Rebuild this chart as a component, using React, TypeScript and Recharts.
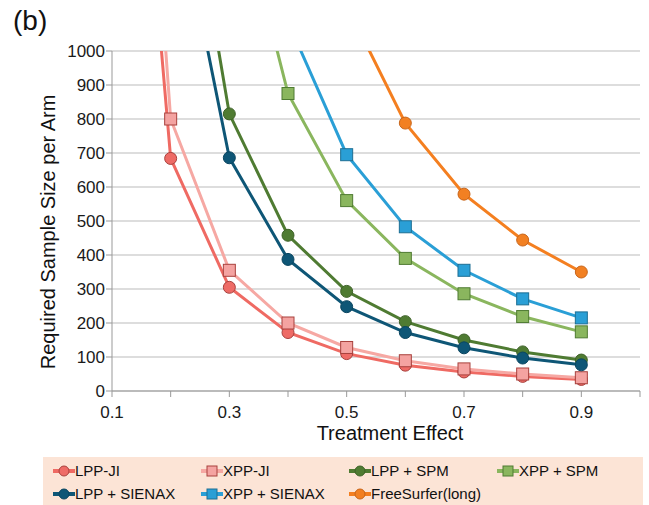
import { LineChart, Line, XAxis, YAxis, CartesianGrid } from 'recharts';

const effects = [0.1, 0.2, 0.3, 0.4, 0.5, 0.6, 0.7, 0.8, 0.9];
const lppJi = [2700, 684, 305, 172, 110, 76, 56, 43, 34];
const xppJi = [3200, 800, 355, 200, 128, 89, 65, 50, 39];
const lppSpm = [null, 1834, 815, 458, 293, 204, 150, 115, 91];
const xppSpm = [null, null, 1556, 875, 560, 390, 286, 219, 174];
const lppSienax = [null, 1544, 686, 387, 248, 172, 127, 97, 77];
const xppSienax = [null, null, null, 1086, 695, 483, 355, 271, 215];
const freeSurfer = [null, null, null, null, 1135, 788, 579, 444, 350];

const xTicks = [0.1, 0.2, 0.3, 0.4, 0.5, 0.6, 0.7, 0.8, 0.9, 1.0];
const xTickLabels = ['0.1', '0.3', '0.5', '0.7', '0.9'];
const yTicks = [0, 100, 200, 300, 400, 500, 600, 700, 800, 900, 1000];

const data = effects.map((e, i) => ({
  effect: e,
  lppJi: lppJi[i],
  xppJi: xppJi[i],
  lppSpm: lppSpm[i],
  xppSpm: xppSpm[i],
  lppSienax: lppSienax[i],
  xppSienax: xppSienax[i],
  freeSurfer: freeSurfer[i],
}));

const series = [
  { key: 'lppJi', name: 'LPP-JI', line: '#ef6a63', fill: '#ee6b66', edge: '#a8413d', shape: 'circle' },
  { key: 'xppJi', name: 'XPP-JI', line: '#f6a8a3', fill: '#f4a3a1', edge: '#a8413d', shape: 'square' },
  { key: 'lppSpm', name: 'LPP + SPM', line: '#4f7b32', fill: '#4f7b32', edge: '#3e6228', shape: 'circle' },
  { key: 'xppSpm', name: 'XPP + SPM', line: '#8ab65e', fill: '#8ab65e', edge: '#4f7b32', shape: 'square' },
  { key: 'lppSienax', name: 'LPP + SIENAX', line: '#0e5676', fill: '#0e5676', edge: '#0a4560', shape: 'circle' },
  { key: 'xppSienax', name: 'XPP + SIENAX', line: '#2a9fd6', fill: '#2a9fd6', edge: '#1d6f94', shape: 'square' },
  { key: 'freeSurfer', name: 'FreeSurfer(long)', line: '#f47f20', fill: '#f28022', edge: '#c8651a', shape: 'circle' },
];

const FONT = '"Liberation Sans", Arial, Helvetica, sans-serif';

const makeDot = (s: any) => (props: any) => {
  const { cx, cy, value, index } = props;
  const k = `${s.key}-${index}`;
  if (cx == null || cy == null || value == null || value > 1000) return <g key={k} />;
  if (s.shape === 'square') {
    return <rect key={k} x={cx - 6} y={cy - 6} width={12} height={12} fill={s.fill} stroke={s.edge} strokeWidth={1} />;
  }
  return <circle key={k} cx={cx} cy={cy} r={6} fill={s.fill} stroke={s.edge} strokeWidth={1} />;
};

const XTick = (props: any) => {
  const { x, y, payload } = props;
  const label = payload.value.toFixed(1);
  if (!xTickLabels.includes(label)) return <g />;
  return (
    <text x={x} y={y} dy="0.71em" textAnchor="middle" fontSize={17} fill="#1a1a1a" fontFamily={FONT}>
      {label}
    </text>
  );
};

const LegendIcon = ({ s }: any) => (
  <svg width={22} height={14} style={{ display: 'block' }}>
    <line x1={0} y1={7} x2={22} y2={7} stroke={s.line} strokeWidth={4} />
    {s.shape === 'square' ? (
      <rect x={6} y={2} width={10} height={10} fill={s.fill} stroke={s.edge} strokeWidth={1} />
    ) : (
      <circle cx={11} cy={7} r={5} fill={s.fill} stroke={s.edge} strokeWidth={1} />
    )}
  </svg>
);

const legendCols = [10, 158, 306, 454];

const ChartLegend = () => (
  <div
    style={{
      position: 'absolute',
      left: 43,
      top: 457,
      width: 600,
      height: 48,
      background: '#fce4d6',
      fontFamily: FONT,
      fontSize: 15,
      color: '#111',
    }}
  >
    {series.map((s, i) => (
      <div
        key={s.key}
        style={{
          position: 'absolute',
          left: legendCols[i % 4],
          top: i < 4 ? 6 : 29,
          display: 'flex',
          alignItems: 'center',
          whiteSpace: 'nowrap',
          lineHeight: '16px',
        }}
      >
        <LegendIcon s={s} />
        <span>{s.name}</span>
      </div>
    ))}
  </div>
);

export default function App() {
  return (
    <div style={{ position: 'absolute', left: 0, top: 0, width: 649, height: 505, background: '#fff', fontFamily: FONT }}>
      <div style={{ position: 'absolute', left: 13, top: 5, fontSize: 28, color: '#111' }}>(b)</div>
      <LineChart width={649} height={505} data={data} margin={{ top: 51, right: 9, left: 0, bottom: 84 }}>
        <CartesianGrid vertical={false} stroke="#bcbcbc" strokeWidth={1.2} />
        <XAxis
          dataKey="effect"
          type="number"
          domain={[0.1, 1.0]}
          ticks={xTicks}
          interval={0}
          height={30}
          tick={<XTick />}
          tickSize={6}
          tickMargin={9}
          axisLine={{ stroke: '#999' }}
          tickLine={{ stroke: '#999' }}
          label={{
            content: () => (
              <text x={390} y={440} textAnchor="middle" fontSize={20} fill="#111" fontFamily={FONT}>
                Treatment Effect
              </text>
            ),
          }}
        />
        <YAxis
          type="number"
          domain={[0, 1000]}
          ticks={yTicks}
          allowDataOverflow
          width={112}
          tickSize={6}
          tickMargin={1}
          tick={{ fontSize: 17, fill: '#1a1a1a', fontFamily: FONT }}
          axisLine={{ stroke: '#999' }}
          tickLine={{ stroke: '#999' }}
          label={{
            content: () => (
              <text
                x={55}
                y={232}
                transform="rotate(-90, 55, 232)"
                textAnchor="middle"
                fontSize={20}
                fill="#111"
                fontFamily={FONT}
              >
                Required Sample Size per Arm
              </text>
            ),
          }}
        />
        {series.map((s) => (
          <Line
            key={s.key}
            dataKey={s.key}
            name={s.name}
            type="linear"
            stroke={s.line}
            strokeWidth={3}
            dot={makeDot(s)}
            activeDot={false}
            connectNulls={false}
            isAnimationActive={false}
          />
        ))}
      </LineChart>
      <ChartLegend />
    </div>
  );
}
